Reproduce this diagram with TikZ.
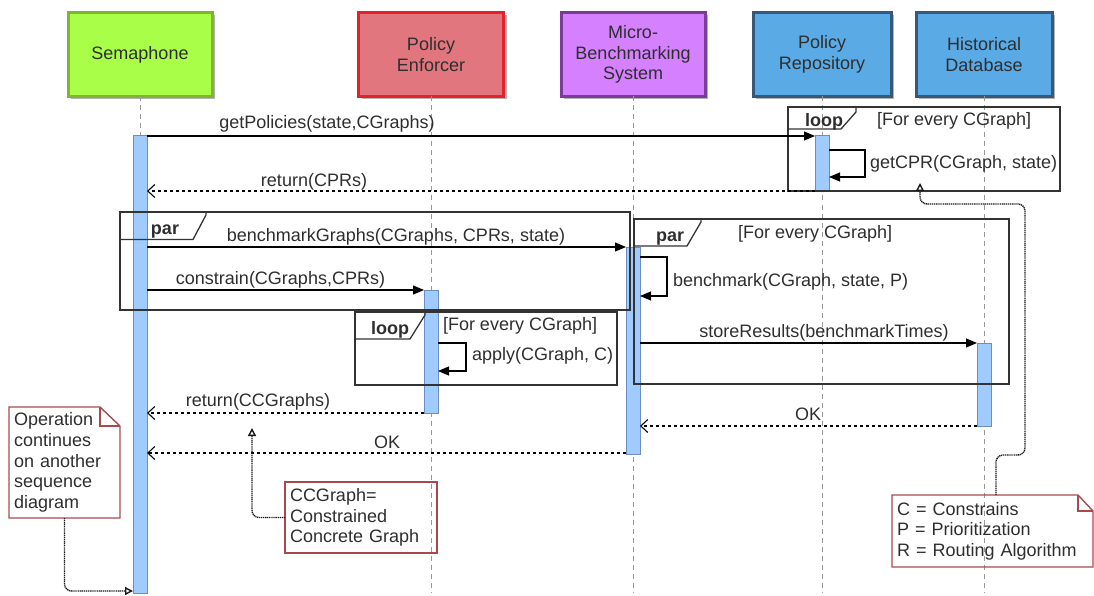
\documentclass[tikz,border=0pt]{standalone}
\usepackage{fontspec}
\setmainfont{Liberation Sans}
\usetikzlibrary{arrows.meta,shadows}

\definecolor{txt}{HTML}{2E2E2E}
\definecolor{semfill}{HTML}{A9FF48}
\definecolor{semdraw}{HTML}{80B530}
\definecolor{pefill}{HTML}{E1767E}
\definecolor{pedraw}{HTML}{E2232C}
\definecolor{mbfill}{HTML}{D480FF}
\definecolor{mbdraw}{HTML}{7B3C96}
\definecolor{bluefill}{HTML}{5AAAE6}
\definecolor{bluedraw}{HTML}{36597A}
\definecolor{barfill}{HTML}{9FCBFF}
\definecolor{bardraw}{HTML}{6D8DBF}
\definecolor{notedraw}{HTML}{A9494E}
\definecolor{framedraw}{HTML}{333333}

\begin{document}
\begin{tikzpicture}[x=1pt,y=-1pt,
  every node/.style={font=\fontsize{18}{20.6}\selectfont, text=txt, inner sep=0pt, outer sep=0pt},
  hdr/.style={draw, line width=3pt, minimum height=84pt, align=center,
    drop shadow={shadow xshift=3pt, shadow yshift=-3pt, fill=black!30, opacity=1}},
  bar/.style={draw=bardraw, fill=barfill, line width=1pt, minimum width=14pt},
  lifeline/.style={draw=black!40, line width=1pt, dash pattern=on 5pt off 4pt},
  frame/.style={draw=framedraw, line width=1.3pt},
  msg/.style={draw=black, line width=1.2pt, -{Triangle[length=11pt,width=9pt]}},
  ret/.style={draw=black, line width=1.1pt, dash pattern=on 3.5pt off 2.5pt, -{Straight Barb[length=7pt,width=13pt]}},
  notebox/.style={draw=notedraw, line width=1.4pt},
  notetext/.style={align=left, inner xsep=5pt, inner ysep=0pt},
  link/.style={draw=black!90, line width=1.4pt, dash pattern=on 1.2pt off 0.7pt, rounded corners=7pt, -{Triangle[open,length=8pt,width=8pt]}},
  lbl/.style={anchor=base},
  lblw/.style={anchor=base west},
  tabtxt/.style={anchor=base, font=\fontsize{18}{20.6}\selectfont\bfseries}
]
\useasboundingbox (0,0) rectangle (1094,596);

% headers
\node[hdr, fill=semfill, draw=semdraw, minimum width=144pt] (sem) at (140,54.5) {Semaphone};
\node[hdr, fill=pefill, draw=pedraw, minimum width=145pt] (pe) at (431,54.5) {Policy\\Enforcer};
\node[hdr, fill=mbfill, draw=mbdraw, minimum width=144pt] (mbs) at (633,54.5) {Micro-\\Benchmarking\\System};
\node[hdr, fill=bluefill, draw=bluedraw, minimum width=138pt] (pr) at (822,54.5) {Policy\\Repository};
\node[hdr, fill=bluefill, draw=bluedraw, minimum width=136pt] (hd) at (984,54.5) {Historical\\Database};

% lifelines
\foreach \n in {sem,pe,mbs,pr,hd} \draw[lifeline] (\n.south) -- (\n.south |- 0,592);

% activation bars
\node[bar, minimum height=457pt] (sbar) at (140,364.5) {};
\node[bar, minimum height=55pt] (prbar) at (822,163.5) {};
\node[bar, minimum height=123pt] (pebar) at (431,351.5) {};
\node[bar, minimum height=207pt] (mbar) at (633,350.5) {};
\node[bar, minimum height=83pt] (hbar) at (984,384.5) {};

% frames
\draw[frame] (788,107) rectangle (1060,191);
\draw[frame] (788,129) -- (841,129) -- (856,112) -- (856,107);
\draw[frame] (120,212) rectangle (630,310);
\draw[frame] (120,239.5) -- (193,239.5) -- (206,215) -- (206,212);
\draw[frame] (634,219) rectangle (1009,384);
\draw[frame] (634,246) -- (687,246) -- (701,222) -- (701,219);
\draw[frame] (355,312) rectangle (617,385);
\draw[frame] (355,339) -- (410,339) -- (425,315) -- (425,312);

% messages
\draw[msg] (sbar.east |- 0,136) -- (prbar.west |- 0,136);
\draw[msg] (prbar.east |- 0,150) -- (865,150) -- (865,177) -- (prbar.east |- 0,177);
\draw[ret] (prbar.west |- 0,191) -- (sbar.east |- 0,191);
\draw[msg] (sbar.east |- 0,247) -- (mbar.west |- 0,247);
\draw[msg] (sbar.east |- 0,290) -- (pebar.west |- 0,290);
\draw[msg] (mbar.east |- 0,257) -- (667,257) -- (667,296) -- (mbar.east |- 0,296);
\draw[msg] (mbar.east |- 0,343) -- (hbar.west |- 0,343);
\draw[msg] (pebar.east |- 0,343) -- (466,343) -- (466,371) -- (pebar.east |- 0,371);
\draw[ret] (pebar.west |- 0,413) -- (sbar.east |- 0,413);
\draw[ret] (hbar.west |- 0,426) -- (mbar.east |- 0,426);
\draw[ret] (mbar.west |- 0,453) -- (sbar.east |- 0,453);

% labels
\node[lbl] (l1) at (327,129) {getPolicies(state,CGraphs)};
\node[lbl] (l2) at (314,186) {return(CPRs)};
\node[tabtxt] (t1) at (824,126.5) {loop};
\node[lblw] (g1) at (877,126) {[For every CGraph]};
\node[lblw] (l3) at (870,169) {getCPR(CGraph, state)};
\node[tabtxt] (t2) at (165,234) {par};
\node[lbl] (l4) at (396,241) {benchmarkGraphs(CGraphs, CPRs, state)};
\node[lbl] (l5) at (280.5,284) {constrain(CGraphs,CPRs)};
\node[tabtxt] (t3) at (670,241) {par};
\node[lblw] (g2) at (738,238) {[For every CGraph]};
\node[lblw] (l6) at (673,286) {benchmark(CGraph, state, P)};
\node[lbl] (l7) at (824,337) {storeResults(benchmarkTimes)};
\node[tabtxt] (t4) at (390,334) {loop};
\node[lblw] (g3) at (443,330) {[For every CGraph]};
\node[lblw] (l8) at (472,360) {apply(CGraph, C)};
\node[lbl] (l9) at (258,406) {return(CCGraphs)};
\node[lbl] (l10) at (808,420.5) {OK};
\node[lbl] (l11) at (387,448) {OK};

% notes
\node[notetext, text width=101pt, minimum width=111pt, minimum height=111pt] (n1) at (64.5,462.5)
  {Operation\\continues\\on another\\sequence\\diagram};
\draw[notebox] (n1.north west) -- ([xshift=-20pt]n1.north east) -- ([yshift=-19pt]n1.north east)
  -- (n1.south east) -- (n1.south west) -- cycle;
\draw[notebox] ([xshift=-20pt]n1.north east) -- ([xshift=-20pt,yshift=-19pt]n1.north east) -- ([yshift=-19pt]n1.north east);

\node[notetext, draw=notedraw, line width=1.4pt, text width=142pt, minimum width=152pt, minimum height=71pt] (n2) at (361,517.5)
  {CCGraph=\\Constrained\\Concrete Graph};

\node[notetext, text width=191pt, minimum width=201pt, minimum height=72pt] (n3) at (992.5,531)
  {C = Constrains\\P = Prioritization\\R = Routing Algorithm};
\draw[notebox] (n3.north west) -- ([xshift=-15pt]n3.north east) -- ([yshift=-16pt]n3.north east)
  -- (n3.south east) -- (n3.south west) -- cycle;
\draw[notebox] ([xshift=-15pt]n3.north east) -- ([xshift=-15pt,yshift=-16pt]n3.north east) -- ([yshift=-16pt]n3.north east);

% note links
\coordinate (cctip) at (252,428);
\coordinate (cpTip) at (920,183);
\draw[link] (n1.south) -- (n1.south |- 0,591) -- (sbar.west |- 0,591);
\draw[link] (n2.west) -- (cctip |- n2.west) -- (cctip);
\draw[link] ([xshift=3.5pt]n3.north) -- (996,455) -- (1025,455) -- (1025,204) -- (cpTip |- 0,204) -- (cpTip);
\end{tikzpicture}
\end{document}
